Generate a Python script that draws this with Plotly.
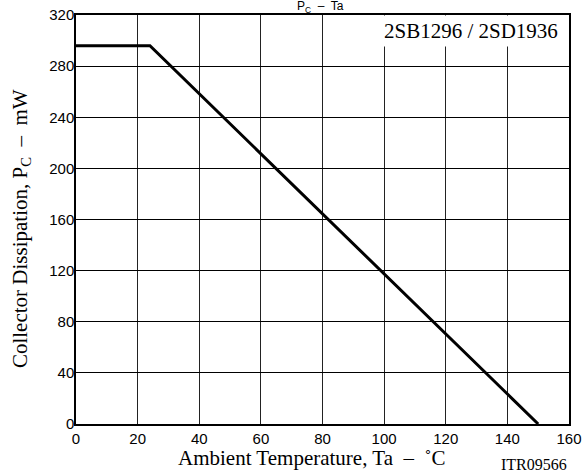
import plotly.graph_objects as go

temp_c = [0, 24, 150]
pc_mw = [296, 296, 0]
x_ticks = [0, 20, 40, 60, 80, 100, 120, 140, 160]
y_ticks = [0, 40, 80, 120, 160, 200, 240, 280, 320]

SERIF = "Liberation Serif, Times New Roman, serif"
SANS = "Liberation Sans, Arial, sans-serif"

fig = go.Figure()
fig.add_trace(go.Scatter(x=temp_c, y=pc_mw, mode="lines",
                         line=dict(color="black", width=3), showlegend=False))

fig.update_layout(
    width=582, height=475,
    margin=dict(l=76, r=13, t=15, b=51),
    paper_bgcolor="white", plot_bgcolor="white",
    font=dict(family=SANS, size=15, color="black"),
    xaxis=dict(range=[0, 160], tickvals=x_ticks, showgrid=True, gridcolor="#222",
               gridwidth=1, showline=True, linecolor="black", linewidth=1.5, mirror=True,
               ticks="", zeroline=False, automargin=False),
    yaxis=dict(range=[0, 320], tickvals=y_ticks, showgrid=True, gridcolor="black",
               gridwidth=1, showline=True, linecolor="black", linewidth=1.5, mirror=True,
               ticks="", zeroline=False, automargin=False, ticklabelstandoff=-3),
)

fig.add_annotation(text="Ambient Temperature, Ta  –  ˚C", xref="paper", yref="paper",
                   x=0.4767, y=-0.0831, xanchor="center", yanchor="middle", showarrow=False,
                   font=dict(family=SERIF, size=21))
fig.add_annotation(text="Collector Dissipation, P<sub>C</sub>  –  mW", xref="paper", yref="paper",
                   x=-0.1116, y=0.479, xanchor="center", yanchor="middle", showarrow=False,
                   textangle=-90, font=dict(family=SERIF, size=21))
fig.add_annotation(text="2SB1296 / 2SD1936", xref="paper", yref="paper",
                   x=0.9858, y=0.962, xanchor="right", yanchor="middle", showarrow=False,
                   bgcolor="white", borderpad=3,
                   font=dict(family=SERIF, size=21))
fig.add_annotation(text="ITR09566", xref="paper", yref="paper",
                   x=0.930, y=-0.0978, xanchor="center", yanchor="middle", showarrow=False,
                   font=dict(family=SERIF, size=16))
fig.add_annotation(text="P<sub>C</sub>  –  Ta", xref="paper", yref="paper",
                   x=0.495, y=1.0, xanchor="center", yanchor="bottom", yshift=-2,
                   showarrow=False, font=dict(family=SANS, size=12))

fig.write_html("out.html")
